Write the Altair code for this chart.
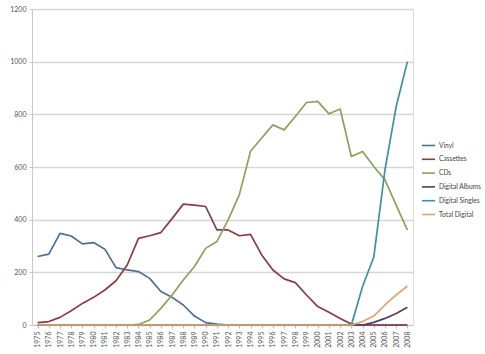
import altair as alt
import pandas as pd

years = list(range(1975, 2009))
series_names = ["Vinyl", "Cassettes", "CDs", "Digital Albums", "Digital Singles", "Total Digital"]
series_colors = ["#4a6f9c", "#8e3b40", "#8ea05a", "#4e3d70", "#3a92a6", "#e3a46a"]

vinyl = [260, 269, 348, 338, 308, 313, 288, 218, 209, 203, 177, 127, 105, 76, 34, 9, 3, 0,
         0, 0, 0, 0, 0, 0, 0, 0, 0, 0, 0, 0, 0, 0, 0, 0]
cassettes = [9, 13, 29, 54, 82, 105, 133, 168, 228, 329, 339, 351, 404, 459, 455, 450, 361, 361,
             339, 344, 266, 209, 175, 161, 114, 70, 48, 25, 4, 0, 0, 0, 0, 0]
cds = [0, 0, 0, 0, 0, 0, 0, 0, 0, 2, 19, 63, 114, 171, 222, 291, 317, 399,
       494, 660, 710, 760, 741, 792, 845, 849, 802, 820, 640, 659, 602, 551, 455, 360]
digital_albums = [0] * 30 + [10, 25, 44, 67]
digital_singles = [0] * 29 + [146, 258, 589, 830, 1000]
total_digital = [0] * 29 + [13, 34, 76, 114, 148]

all_series = [vinyl, cassettes, cds, digital_albums, digital_singles, total_digital]
rows = []
for i, (name, vals) in enumerate(zip(series_names, all_series)):
    for y, v in zip(years, vals):
        rows.append({"Year": y, "Value": v, "Series": name, "ord": i})
df = pd.DataFrame(rows)

font = "Lato"

chart = alt.Chart(df).mark_line(strokeWidth=1.7, strokeJoin="round").encode(
    x=alt.X("Year:Q",
            scale=alt.Scale(domain=[1974.5, 2008.5], nice=False, zero=False),
            axis=alt.Axis(values=years, format="d", labelAngle=270, title=None,
                          grid=False, ticks=True, tickSize=3, tickColor="#bbbbbb",
                          domainColor="#c8c8c8", labelFontSize=7, labelColor="#555555",
                          labelPadding=3, labelFont=font)),
    y=alt.Y("Value:Q",
            scale=alt.Scale(domain=[0, 1200], nice=False),
            axis=alt.Axis(values=[0, 200, 400, 600, 800, 1000, 1200], format="d", title=None,
                          grid=True, gridColor="#d6d6d6", gridWidth=1.5,
                          domainColor="#c8c8c8", tickColor="#c8c8c8", tickSize=3,
                          labelFontSize=7, labelColor="#555555", labelPadding=3,
                          labelFont=font)),
    color=alt.Color("Series:N",
                    scale=alt.Scale(domain=series_names, range=series_colors),
                    legend=alt.Legend(title=None, orient="none", legendX=389, legendY=129,
                                      symbolType="stroke", symbolSize=169,
                                      symbolStrokeWidth=1.6, labelFontSize=6.6,
                                      labelColor="#444444", labelFont=font,
                                      rowPadding=1.8, labelOffset=3, labelLimit=60)),
    order=alt.Order("ord:Q"),
).properties(
    width=381, height=316,
    autosize=alt.AutoSizeParams(type="none"),
    padding={"left": 32, "top": 9, "right": 72, "bottom": 29},
).configure_view(stroke=None).configure(background="white")

chart.save("out.html", embed_options={"renderer": "svg", "actions": False})
